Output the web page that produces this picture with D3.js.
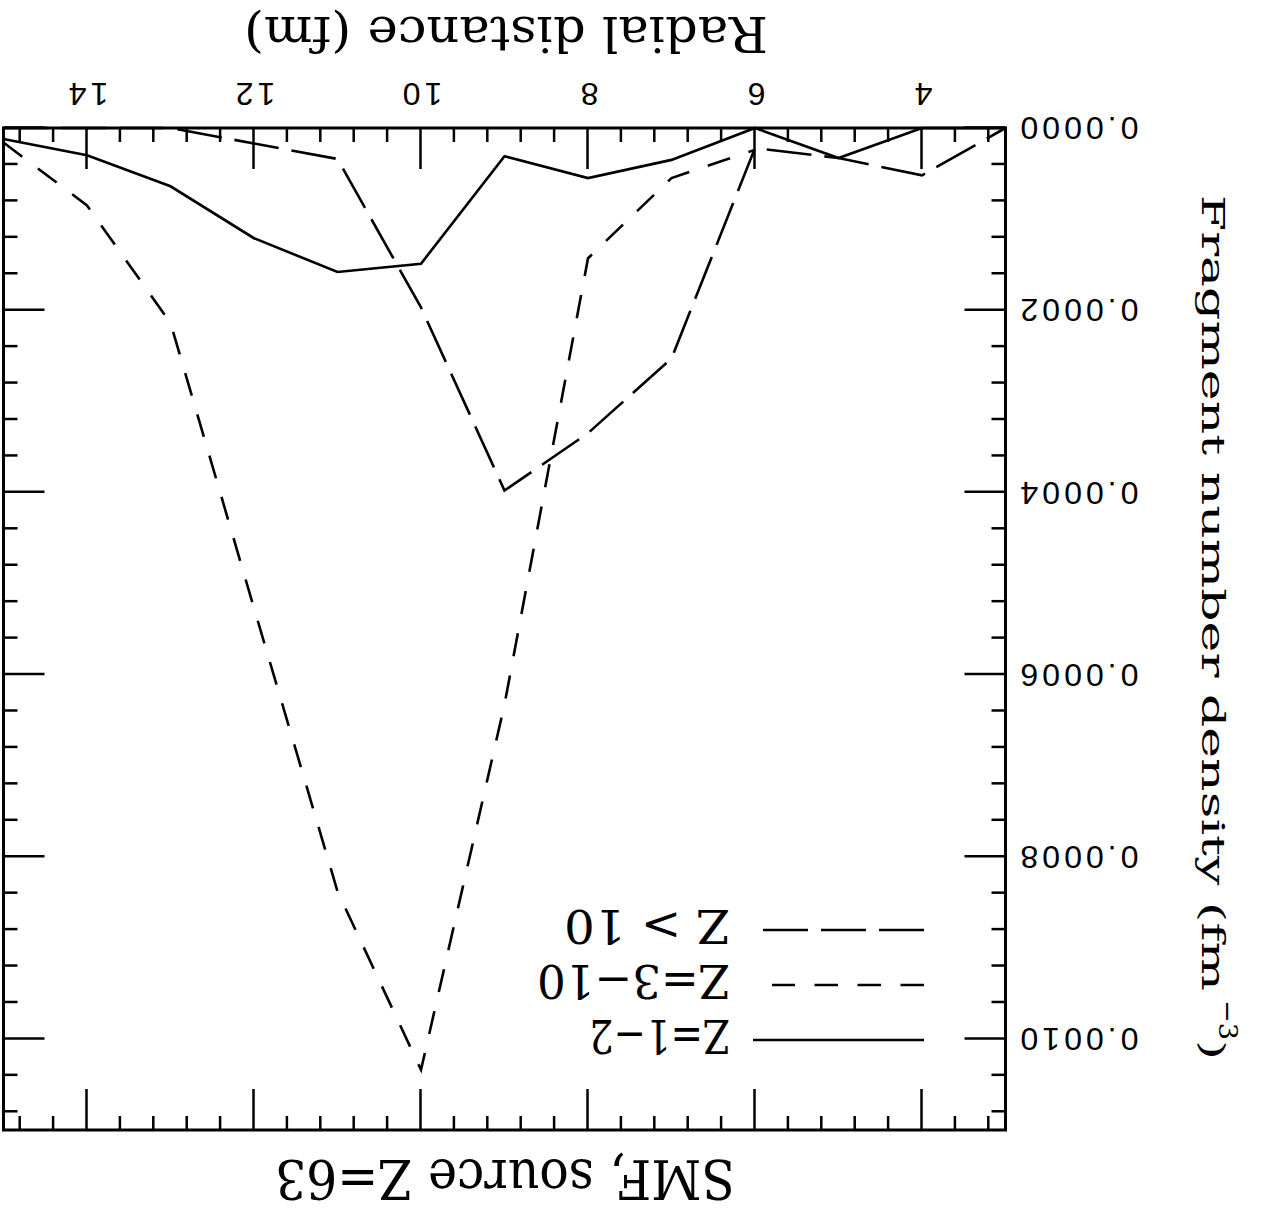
<!DOCTYPE html>
<html>
<head>
<meta charset="utf-8">
<script src="https://d3js.org/d3.v7.min.js"></script>
<style>
  body { margin: 0; background: #fff; }
  svg { display: block; }
</style>
</head>
<body>
<div id="chart-area"></div>
<script>
// values, radial distance in fm
let radius = [15, 14, 13, 12, 11, 10, 9, 8, 7, 6, 5, 4, 3];
let zLight = [0.000012, 0.000030, 0.000064, 0.000121, 0.000158, 0.000149, 0.000031, 0.000055, 0.000035, 0, 0.000033, 0, 0];
let zMid = [0.000016, 0.000085, 0.000214, 0.000527, 0.000838, 0.001034, 0.000633, 0.000143, 0.000055, 0.000024];
let zHeavy = [0, 0, 0, 0.000017, 0.000034, 0.000197, 0.000398, 0.000335, 0.000253, 0.000022, 0.000033, 0.000052, 0];
let seriesNames = ["Z=1\u22122", "Z=3\u221210", "Z > 10"];
let xTicks = [4, 6, 8, 10, 12, 14];
let yTicks = [0, 0.0002, 0.0004, 0.0006, 0.0008, 0.0010];

let W = 1263, H = 1218;
let margin = { top: 88, right: 3.5, bottom: 128, left: 257.5 };
let width = W - margin.left - margin.right,
  height = H - margin.top - margin.bottom;
let serif = "'DejaVu Serif', 'Liberation Serif', serif";

let svg = d3
  .select("#chart-area")
  .append("svg")
  .attr("width", W)
  .attr("height", H);

// the whole figure comes out upside down, so draw it normally and turn it
let flip = svg
  .append("g")
  .attr("transform", "rotate(180," + W / 2 + "," + H / 2 + ")");

let bigG = flip
  .append("g")
  .attr("transform", "translate(" + margin.left + "," + margin.top + ")");

let xScale = d3.scaleLinear().domain([3, 15]).range([0, width]);
let yScale = d3.scaleLinear().domain([0, 0.0011]).range([height, 0]);

// minor ticks: 0.4 fm and 0.00004 fm^-3
let xMinor = d3.range(3.2, 15, 0.4).filter(function(v) {
  return !xTicks.some(function(t) { return Math.abs(t - v) < 0.01; });
});
let yMinor = d3.range(0.00004, 0.0011, 0.00004).filter(function(v) {
  return !yTicks.some(function(t) { return Math.abs(t - v) < 1e-7; });
});

function drawAxis(axis, tr, values, size, labels) {
  let g = bigG
    .append("g")
    .attr("transform", tr)
    .call(
      axis
        .tickValues(values)
        .tickSizeInner(-size)
        .tickSizeOuter(0)
        .tickPadding(labels ? labels.pad : 0)
        .tickFormat(labels ? labels.fmt : "")
    );
  g.select(".domain").remove();
  g.selectAll("line").attr("stroke", "#000").attr("stroke-width", 2.5);
  g.selectAll("text")
    .attr("fill", "#000")
    .style("font-family", "'Liberation Sans', Arial, sans-serif")
    .style("font-size", "32px")
    .style("letter-spacing", "4px");
}

let yFmt = d3.format(".4f");
let xFmt = d3.format("d");

drawAxis(d3.axisBottom(xScale), "translate(0," + height + ")", xTicks, 41, { pad: 22, fmt: xFmt });
drawAxis(d3.axisBottom(xScale), "translate(0," + height + ")", xMinor, 14);
drawAxis(d3.axisTop(xScale), "translate(0,0)", xTicks, 41);
drawAxis(d3.axisTop(xScale), "translate(0,0)", xMinor, 14);
drawAxis(d3.axisLeft(yScale), "translate(0,0)", yTicks, 41, { pad: 11, fmt: yFmt });
drawAxis(d3.axisLeft(yScale), "translate(0,0)", yMinor, 14);
drawAxis(d3.axisRight(yScale), "translate(" + width + ",0)", yTicks, 41);
drawAxis(d3.axisRight(yScale), "translate(" + width + ",0)", yMinor, 14);

bigG
  .append("rect")
  .attr("width", width)
  .attr("height", height)
  .attr("fill", "none")
  .attr("stroke", "#000")
  .attr("stroke-width", 3);

// data lines
let line = d3
  .line()
  .x(function(d, i) { return xScale(radius[i]); })
  .y(function(d) { return yScale(d); });

let series = [zLight, zMid, zHeavy];
let dashes = [null, "23.5,19.5", "45,13"];

series.forEach(function(s, k) {
  bigG
    .append("path")
    .datum(s)
    .attr("d", line)
    .attr("fill", "none")
    .attr("stroke", "#000")
    .attr("stroke-width", 2.6)
    .attr("stroke-dasharray", dashes[k]);
});

// legend, top left in the unturned figure
let legLen = [171, 152, 161];
let legText = [141, 193, 166];
seriesNames.forEach(function(name, k) {
  let rowY = 90 + k * 55;
  bigG
    .append("line")
    .attr("x1", 81.5)
    .attr("x2", 81.5 + legLen[k])
    .attr("y1", rowY)
    .attr("y2", rowY)
    .attr("stroke", "#000")
    .attr("stroke-width", 2.6)
    .attr("stroke-dasharray", dashes[k]);
  bigG
    .append("text")
    .attr("x", 275.5)
    .attr("y", rowY + 20)
    .attr("textLength", legText[k])
    .attr("lengthAdjust", "spacingAndGlyphs")
    .style("font-family", serif)
    .style("font-size", "46px")
    .style("white-space", "pre")
    .text(name);
});

// titles
function label(x, y, size, len, txt, rot) {
  return flip
    .append("text")
    .attr("transform", "translate(" + x + "," + y + ")" + (rot ? " rotate(-90)" : ""))
    .attr("textLength", len)
    .attr("lengthAdjust", "spacingAndGlyphs")
    .style("font-family", serif)
    .style("font-size", size + "px")
    .text(txt);
}

label(528, 58, 54, 460, "SMF, source Z=63");
label(495, 1201, 48, 524, "Radial distance (fm)");

// y title: main part, superscript and closing bracket
label(61, 1023, 32, 796, "Fragment number density (fm", true);
label(44, 218, 26, 40, "\u22123", true);
label(61, 178, 32, 20, ")", true);
</script>
</body>
</html>
